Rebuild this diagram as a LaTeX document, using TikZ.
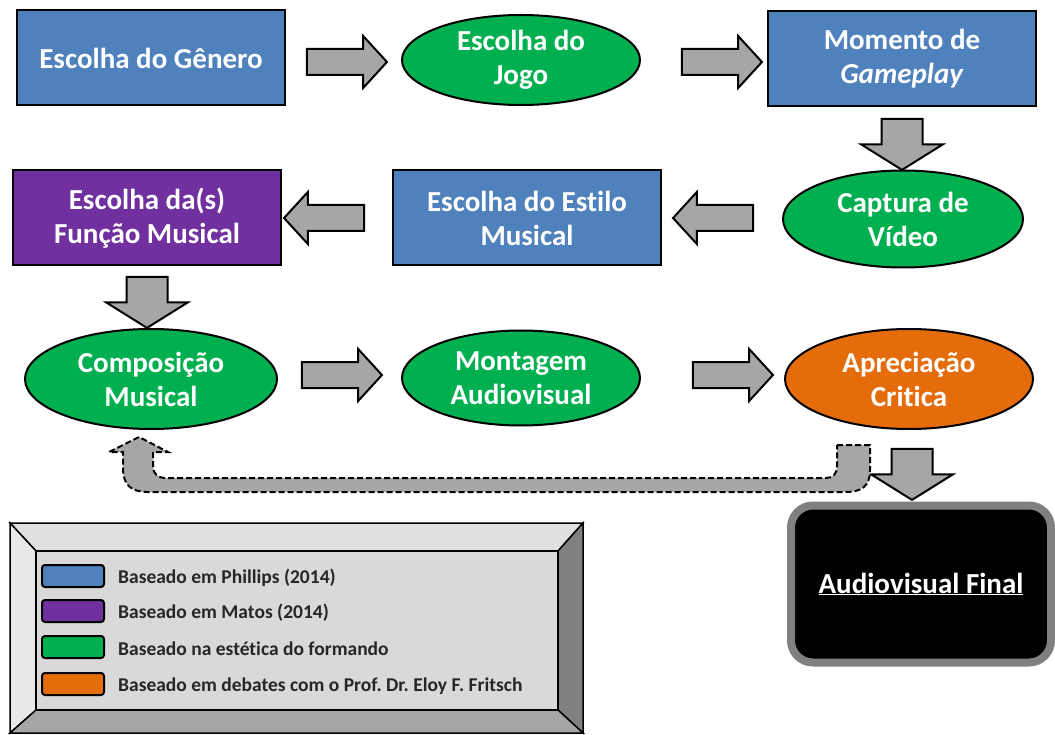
\documentclass[tikz,border=0pt]{standalone}
\usepackage{fontspec}
\setmainfont[Ligatures=NoCommon]{Carlito}
\usetikzlibrary{shapes.geometric,shapes.arrows}

\definecolor{blueC}{HTML}{4F81BD}
\definecolor{purpleC}{HTML}{7030A0}
\definecolor{greenC}{HTML}{00B050}
\definecolor{orangeC}{HTML}{E46C0A}
\definecolor{arrgray}{HTML}{A6A6A6}

\newcommand{\bigtxt}{\fontsize{29}{34}\selectfont\bfseries}
\newcommand{\legtxt}{\fontsize{19.5}{23}\selectfont\bfseries}
\frenchspacing

\tikzset{
  box/.style={rectangle, draw=black, line width=2pt, minimum width=268pt, minimum height=95pt,
    text=white, font=\bigtxt, align=center},
  oval/.style={ellipse, draw=black, line width=2pt, fill=greenC, inner sep=0pt,
    text=white, font=\bigtxt, align=center},
  harrow/.style={single arrow, draw=black, fill=arrgray, line width=2pt, inner xsep=0pt, inner ysep=12pt,
    text height=0pt, text depth=0pt, minimum width=0pt, minimum height=80pt,
    single arrow head extend=13pt, single arrow tip angle=95, single arrow head indent=0pt},
  varrow/.style={single arrow, draw=black, fill=arrgray, line width=2pt, inner xsep=0pt, inner ysep=19.5pt,
    text height=0pt, text depth=0pt, minimum width=0pt, minimum height=51pt,
    single arrow head extend=20.5pt, single arrow tip angle=116, single arrow head indent=0pt, rotate=-90},
  swatch/.style={rectangle, rounded corners=3pt, draw=black, line width=2pt, minimum width=62pt, minimum height=22pt},
  legitem/.style={anchor=west, font=\legtxt, text=black!85, inner sep=0pt},
}

\begin{document}
\begin{tikzpicture}[x=1pt, y=-1pt]
\useasboundingbox (0,0) rectangle (1055,735);

% linha 1
\node[box, fill=blueC] (genero) at (151,58) {Escolha do Gênero};
\node[oval, minimum width=238pt, minimum height=90pt] (jogo) at (521,60) {Escolha do\\Jogo};
\node[box, fill=blueC] (gameplay) at (902,59) {Momento de\\\textit{Gameplay}};
\node[harrow] (a1) at (341,62) {};
\node[harrow] (a2) at (716,62) {};
\node[varrow] (a3) at (902,138) {};

% linha 2
\node[oval, minimum width=240pt, minimum height=97pt] (video) at (903,219) {Captura de\\Vídeo};
\node[box, fill=blueC] (estilo) at (527,218) {Escolha do Estilo\\Musical};
\node[box, fill=purpleC] (funcao) at (147,218) {Escolha da(s)\\Função Musical};
\node[harrow, rotate=180] (a4) at (719,218) {};
\node[harrow, rotate=180] (a5) at (330,218) {};
\node[varrow] (a6) at (147,296) {};

% linha 3
\node[oval, minimum width=252pt, minimum height=100pt] (compos) at (151,379) {Composição\\Musical};
\node[oval, minimum width=238pt, minimum height=95pt] (montagem) at (521,378) {Montagem\\Audiovisual};
\node[oval, fill=orangeC, minimum width=248pt, minimum height=100pt] (critica) at (909,379) {Apreciação\\Critica};
\node[harrow] (a7) at (336,375) {};
\node[harrow] (a8) at (727,375) {};
\node[varrow] (a9) at (912,468) {};

% retorno
\draw[fill=arrgray, line width=2pt, dash pattern=on 6pt off 3pt]
  (837,445) -- (870,445) -- (870,470) .. controls (870,487) and (861,492) .. (845,492)
  -- (148,492) .. controls (131,492) and (123,485) .. (123,468) -- (123,452) -- (109,452)
  -- (139,437) -- (168,452) -- (153,452) -- (153,466) .. controls (153,474) and (158,478) .. (166,478)
  -- (826,478) .. controls (833,478) and (837,474) .. (837,466) -- cycle;

\node[rectangle, rounded corners=22pt, fill=black, draw=black!50, line width=8pt,
  minimum width=260pt, minimum height=157pt, text=white, font=\bigtxt] (final) at (921,584)
  {\underline{Audiovisual Final}};

% legenda
\draw[line width=1.5pt, fill=black!12] (10,523) -- (583,523) -- (558,551) -- (36,551) -- cycle;
\draw[line width=1.5pt, fill=black!9] (10,523) -- (36,551) -- (36,710) -- (10,733) -- cycle;
\draw[line width=1.5pt, fill=black!50] (583,523) -- (583,733) -- (558,710) -- (558,551) -- cycle;
\draw[line width=1.5pt, fill=black!35] (10,733) -- (36,710) -- (558,710) -- (583,733) -- cycle;
\draw[line width=1.5pt, fill=black!15] (36,551) rectangle (558,710);

\node[swatch, fill=blueC] (s1) at (73,576) {};
\node[swatch, fill=purpleC] (s2) at (73,611) {};
\node[swatch, fill=greenC] (s3) at (73,647) {};
\node[swatch, fill=orangeC] (s4) at (73,684) {};
\node[legitem] (l1) at (118,578) {Baseado em Phillips (2014)};
\node[legitem] (l2) at (118,613) {Baseado em Matos (2014)};
\node[legitem] (l3) at (118,649) {Baseado na estética do formando};
\node[legitem] (l4) at (118,686) {Baseado em debates com o Prof. Dr. Eloy F. Fritsch};
\end{tikzpicture}
\end{document}
